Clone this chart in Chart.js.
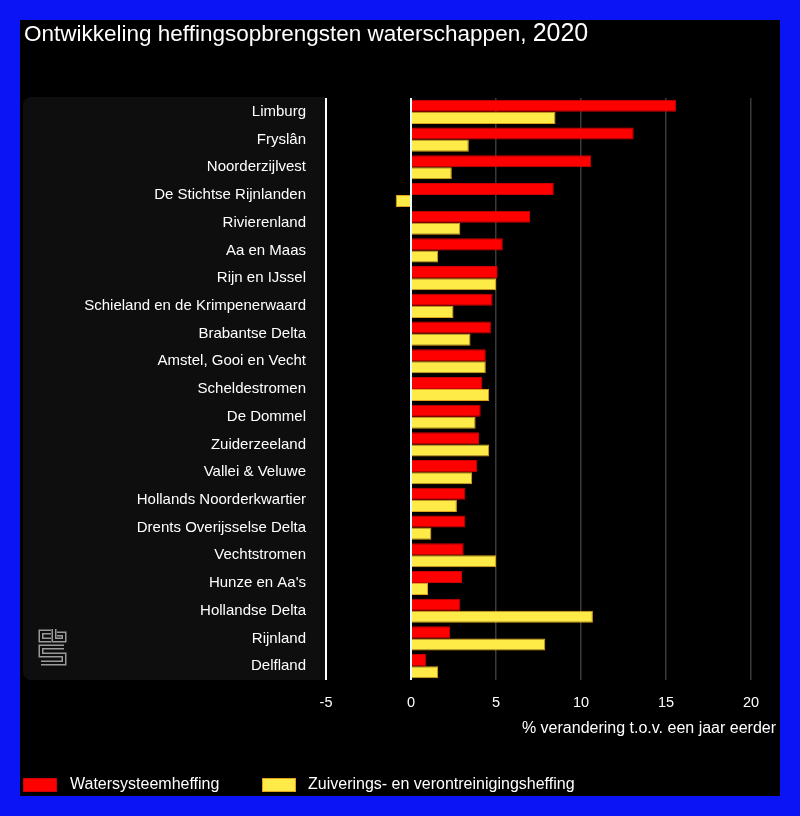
<!DOCTYPE html>
<html>
<head>
<meta charset="utf-8">
<script src="https://cdn.jsdelivr.net/npm/chart.js@4.4.0/dist/chart.umd.min.js"></script>
<style>
  html, body { margin: 0; padding: 0; background: #0a14f5; }
  canvas { display: block; }
</style>
</head>
<body>
<canvas id="chart" width="800" height="816"></canvas>
<script>
const categories = [
  "Limburg", "Fryslân", "Noorderzijlvest", "De Stichtse Rijnlanden", "Rivierenland",
  "Aa en Maas", "Rijn en IJssel", "Schieland en de Krimpenerwaard", "Brabantse Delta",
  "Amstel, Gooi en Vecht", "Scheldestromen", "De Dommel", "Zuiderzeeland",
  "Vallei & Veluwe", "Hollands Noorderkwartier", "Drents Overijsselse Delta",
  "Vechtstromen", "Hunze en Aa's", "Hollandse Delta", "Rijnland", "Delfland"
];
const watersysteem = [15.6, 13.1, 10.6, 8.4, 7.0, 5.4, 5.1, 4.8, 4.7, 4.4, 4.2, 4.1, 4.0, 3.9, 3.2, 3.2, 3.1, 3.0, 2.9, 2.3, 0.9];
const zuivering = [8.5, 3.4, 2.4, -0.9, 2.9, 1.6, 5.0, 2.5, 3.5, 4.4, 4.6, 3.8, 4.6, 3.6, 2.7, 1.2, 5.0, 1.0, 10.7, 7.9, 1.6];
const xTicks = [-5, 0, 5, 10, 15, 20];

const titleText = "Ontwikkeling heffingsopbrengsten waterschappen,";
const titleYear = "2020";
const axisTitle = "% verandering t.o.v. een jaar eerder";
const FONT = "'Liberation Sans', Arial, sans-serif";

// background, label panel, title, logo
const backdrop = {
  id: "backdrop",
  beforeDraw(chart) {
    const ctx = chart.ctx;
    const area = chart.chartArea;
    ctx.save();
    ctx.fillStyle = "#0a14f5";
    ctx.fillRect(0, 0, chart.width, chart.height);
    ctx.fillStyle = "#000000";
    ctx.fillRect(20, 20, 760, 776);

    // dark panel behind category labels
    ctx.fillStyle = "#0e0e0e";
    ctx.beginPath();
    ctx.roundRect(23, area.top - 1, area.left - 24, area.bottom - area.top + 1, [8, 0, 0, 8]);
    ctx.fill();

    // title
    ctx.fillStyle = "#ffffff";
    ctx.textBaseline = "alphabetic";
    ctx.textAlign = "left";
    ctx.font = "22.5px " + FONT;
    ctx.fillText(titleText, 24, 41);
    const w = ctx.measureText(titleText + " ").width;
    ctx.font = "25px " + FONT;
    ctx.fillText(titleYear, 24 + w, 41);

    // cbs logo (line art)
    ctx.lineJoin = "miter";
    ctx.lineCap = "butt";
    const paths = [
      [[51, 632], [41, 632], [41, 640], [51, 640]],
      [[54, 629], [54, 640], [64, 640], [64, 634], [57, 634]],
      [[64, 647], [41, 647], [41, 655], [64, 655], [64, 663], [41, 663]]
    ];
    [[5, "#9a9a9a"], [2, "#0e0e0e"]].forEach(([lw, col]) => {
      ctx.lineWidth = lw;
      ctx.strokeStyle = col;
      paths.forEach(p => {
        ctx.beginPath();
        ctx.moveTo(p[0][0], p[0][1]);
        p.slice(1).forEach(pt => ctx.lineTo(pt[0], pt[1]));
        ctx.stroke();
      });
    });
    ctx.restore();
  },
  afterDraw(chart) {
    const ctx = chart.ctx;
    ctx.save();
    ctx.fillStyle = "#ffffff";
    ctx.font = "16px " + FONT;
    ctx.textBaseline = "middle";
    ctx.textAlign = "right";
    ctx.fillText(axisTitle, 776, 729);

    // legend
    ctx.textAlign = "left";
    const items = [[23, 70], [262, 308]];
    chart.data.datasets.forEach((ds, i) => {
      const [bx, tx] = items[i];
      ctx.fillStyle = ds.backgroundColor;
      ctx.fillRect(bx, 778, 34, 14);
      ctx.strokeStyle = ds.borderColor;
      ctx.lineWidth = 1;
      ctx.strokeRect(bx + 0.5, 778.5, 33, 13);
      ctx.fillStyle = "#ffffff";
      ctx.fillText(ds.label, tx, 785);
    });
    ctx.restore();
  }
};

new Chart(document.getElementById("chart"), {
  type: "bar",
  data: {
    labels: categories,
    datasets: [
      {
        label: "Watersysteemheffing",
        data: watersysteem,
        backgroundColor: "#ff0000",
        borderColor: "#d00000",
        borderWidth: 1,
        categoryPercentage: 0.87,
        barPercentage: 1.0,
      },
      {
        label: "Zuiverings- en verontreinigingsheffing",
        data: zuivering,
        backgroundColor: "#ffeb47",
        borderColor: "#e2a21c",
        borderWidth: 1,
        categoryPercentage: 0.87,
        barPercentage: 1.0,
      },
    ],
  },
  options: {
    indexAxis: "y",
    responsive: false,
    devicePixelRatio: 1,
    animation: false,
    layout: { padding: { left: 13, right: 49, top: 98, bottom: 96 } },
    plugins: {
      legend: { display: false },
      title: { display: false },
      tooltip: { enabled: false },
    },
    scales: {
      x: {
        min: -5,
        max: 20,
        afterBuildTicks: (scale) => { scale.ticks = xTicks.map(v => ({ value: v })); },
        afterFit: (scale) => { scale.height = 40; },
        border: { display: false },
        grid: {
          drawTicks: false,
          color: (c) => c.tick && c.tick.value === -5 ? "#ffffff" : (c.tick && c.tick.value === 0 ? "#e4fbff" : "#3a3a3a"),
          lineWidth: (c) => c.tick && (c.tick.value === -5 || c.tick.value === 0) ? 2 : 1.5,
        },
        ticks: {
          color: "#ffffff",
          padding: 14,
          font: { family: FONT, size: 14.5 },
        },
      },
      y: {
        afterFit: (scale) => { scale.width = 313; },
        border: { display: false },
        grid: { display: false },
        ticks: {
          color: "#ffffff",
          padding: 12,
          autoSkip: false,
          font: { family: FONT, size: 15 },
        },
      },
    },
  },
  plugins: [backdrop],
});
</script>
</body>
</html>
